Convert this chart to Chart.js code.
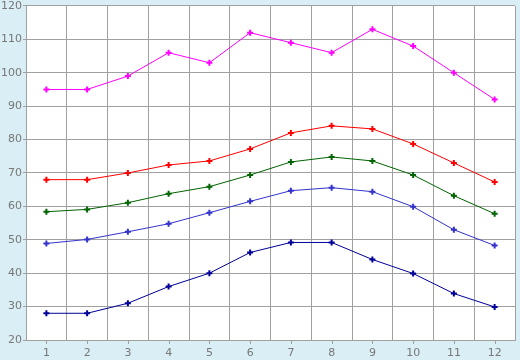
<!DOCTYPE html>
<html>
<head>
<meta charset="utf-8">
<script src="https://cdn.jsdelivr.net/npm/chart.js@4/dist/chart.umd.min.js"></script>
<style>
html,body{margin:0;padding:0;background:#daeef5;}
#wrap{width:520px;height:360px;position:relative;}
</style>
</head>
<body>
<div id="wrap"><canvas id="c" width="520" height="360"></canvas></div>
<script>
const categories = ['1','2','3','4','5','6','7','8','9','10','11','12'];
const seriesMagenta = [95, 95, 99, 106, 103, 112, 109, 106, 113, 108, 100, 92];
const seriesRed = [68, 68, 70, 72.4, 73.6, 77.2, 82, 84.1, 83.2, 78.7, 73, 67.3];
const seriesGreen = [58.4, 59.1, 61.1, 63.8, 65.9, 69.4, 73.3, 74.8, 73.6, 69.4, 63.2, 57.8];
const seriesBlue = [48.9, 50.1, 52.4, 54.8, 58.1, 61.5, 64.7, 65.6, 64.4, 59.9, 53, 48.3];
const seriesNavy = [28, 28, 31, 36, 40, 46.2, 49.2, 49.2, 44.1, 39.9, 33.9, 29.9];
const yMin = 20, yMax = 120, yStep = 10;

function ds(data, color){
  return {
    data: data,
    borderColor: color,
    backgroundColor: color,
    borderWidth: 1,
    pointStyle: 'cross',
    pointRadius: 3,
    pointBorderWidth: 2,
    pointHoverRadius: 3,
    tension: 0,
    fill: false
  };
}

const bgPlugin = {
  id: 'bg',
  beforeDraw(chart){
    const ctx = chart.ctx, a = chart.chartArea;
    ctx.save();
    ctx.fillStyle = '#daeef5';
    ctx.fillRect(0,0,chart.width,chart.height);
    ctx.fillStyle = '#ffffff';
    ctx.fillRect(a.left,a.top,a.right-a.left,a.bottom-a.top);
    ctx.restore();
  },
  afterDraw(chart){
    const ctx = chart.ctx, x = chart.scales.x, a = chart.chartArea;
    ctx.save();
    ctx.strokeStyle = '#a0a0a0';
    ctx.lineWidth = 1;
    ctx.beginPath();
    for (let i = 0; i < categories.length; i++){
      const px = Math.round(x.getPixelForValue(i)) + 0.5;
      ctx.moveTo(px, a.bottom);
      ctx.lineTo(px, a.bottom + 4);
    }
    ctx.stroke();
    ctx.restore();
  }
};

new Chart(document.getElementById('c'), {
  type: 'line',
  data: {
    labels: categories,
    datasets: [
      ds(seriesMagenta, '#ff00ff'),
      ds(seriesRed, '#ff0000'),
      ds(seriesGreen, '#006400'),
      ds(seriesBlue, '#3333cc'),
      ds(seriesNavy, '#000099')
    ]
  },
  options: {
    responsive: false,
    animation: false,
    devicePixelRatio: 1,
    layout: { padding: { top: 5, right: 5, left: 0, bottom: 0 } },
    plugins: { legend: { display: false }, tooltip: { enabled: false } },
    scales: {
      x: {
        offset: true,
        grid: { color: '#a0a0a0', offset: true, drawTicks: false, lineWidth: 1 },
        border: { color: '#a0a0a0' },
        ticks: { color: '#777777', font: { family: 'DejaVu Sans', size: 11, lineHeight: 1 }, padding: 8, maxRotation: 0, autoSkip: false },
        afterFit(s){ s.height = 20; }
      },
      y: {
        min: yMin, max: yMax,
        grid: { color: '#a0a0a0', tickLength: 3, lineWidth: 1 },
        border: { color: '#a0a0a0' },
        ticks: { stepSize: yStep, color: '#777777', font: { family: 'DejaVu Sans', size: 11, lineHeight: 0.9 }, padding: 1 },
        afterFit(s){ s.width = 26; }
      }
    }
  },
  plugins: [bgPlugin]
});
</script>
</body>
</html>
